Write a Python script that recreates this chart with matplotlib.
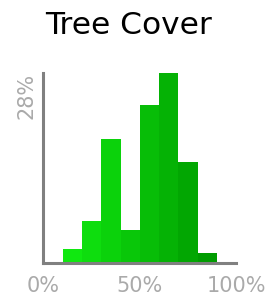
import numpy as np
import matplotlib.pyplot as plt
from matplotlib.colors import to_rgb

bin_left = [10, 20, 30, 40, 50, 60, 70, 80]
share = [2.1, 6.2, 18.3, 4.9, 23.3, 28.0, 14.9, 1.5]
x_ticks = [0, 50, 100]
x_labels = ['0%', '50%', '100%']
y_label = '28%'

fig = plt.figure(figsize=(2.65, 3.03), dpi=100, facecolor='white')
ax = fig.add_axes([0.164, 0.132, 0.727, 0.627])

# shade from bright to darker green across the bins
c0 = np.array(to_rgb('#10e810'))
c1 = np.array(to_rgb('#009c00'))
cols = [c0 + (c1 - c0) * i / (len(bin_left) - 1) for i in range(len(bin_left))]

ax.bar(bin_left, share, width=10, align='edge', color=cols, linewidth=0)

ax.set_xlim(0, 100)
ax.set_ylim(0, 28)
ax.set_xticks(x_ticks)
ax.set_xticklabels(x_labels, color='#aaaaaa', fontsize=15)
ax.set_yticks([])
ax.tick_params(axis='x', length=0, pad=9)

for s in ['top', 'right']:
    ax.spines[s].set_visible(False)
for s in ['left', 'bottom']:
    ax.spines[s].set_color('#808080')
    ax.spines[s].set_linewidth(2.2)
    ax.spines[s].set_zorder(3)

ax.text(-0.09, 1.0, y_label, transform=ax.transAxes, rotation=90,
        ha='center', va='top', color='#aaaaaa', fontsize=15)

fig.suptitle('Tree Cover', x=0.485, y=0.965, fontsize=22.5, va='top')

fig.savefig('out.png', dpi=100, facecolor='white')
